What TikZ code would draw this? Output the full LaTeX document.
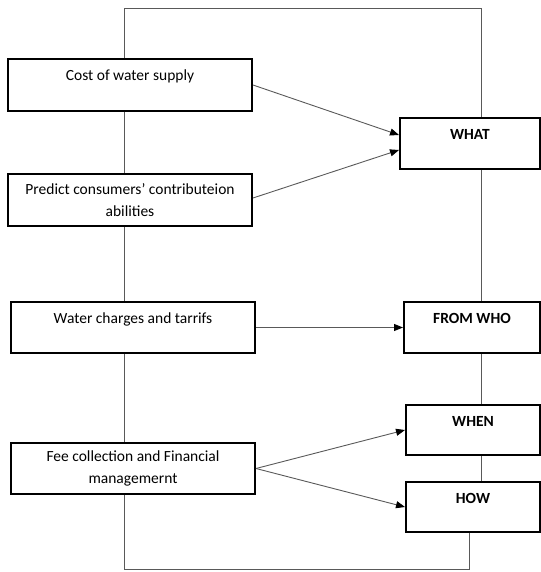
\documentclass[tikz,border=0pt]{standalone}
\usepackage{fontspec}
\setmainfont{Carlito}
\usepackage{tikz}
\usetikzlibrary{arrows.meta, calc}

\begin{document}
\begin{tikzpicture}[
    x=1pt, y=-1pt,
    box/.style={rectangle, draw, line width=2pt, fill=white, inner sep=0pt, align=center,
        font=\fontsize{15.5}{22}\selectfont},
    lbox/.style={box, minimum width=244pt, minimum height=52pt},
    rbox/.style={box, minimum height=51pt, font=\fontsize{15.5}{22}\selectfont\bfseries},
    oneline/.style={text height=11pt, text depth=19pt},
    link/.style={draw=black!65, line width=0.9pt},
    arr/.style={link, -{Triangle[length=9pt, width=7pt, color=black]}}
]
    \useasboundingbox (0,0) rectangle (540,572);

    % frame corners
    \coordinate (tl) at (124,8);
    \coordinate (tr) at (481,8);
    \coordinate (bl) at (124,569);
    \coordinate (br) at (469,569);

    % left column
    \node[lbox, oneline] (cost) at (130,85) {Cost of water supply};
    \node[lbox] (predict) at (130,200) {Predict consumers’ contributeion\\abilities};
    \node[lbox, oneline, minimum height=51pt] (charges) at (133,327.5) {Water charges and tarrifs};
    \node[lbox, minimum height=51pt] (fee) at (133,468.5) {Fee collection and Financial\\managemernt};

    % right column
    \node[rbox, oneline, minimum width=140pt] (what) at (470,143.5) {WHAT};
    \node[rbox, oneline, minimum width=136pt] (fromwho) at (472,327.5) {FROM WHO};
    \node[rbox, oneline, minimum width=134pt, minimum height=50pt] (when) at (473,430) {WHEN};
    \node[rbox, oneline, minimum width=134pt, minimum height=50pt] (how) at (473,507) {HOW};

    % frame lines
    \draw[link] (cost.north -| tl) -- (tl) -- (tr) -- (what.north -| tr);
    \draw[link] (cost.south -| tl) -- (predict.north -| tl);
    \draw[link] (predict.south -| tl) -- (charges.north -| tl);
    \draw[link] (charges.south -| tl) -- (fee.north -| tl);
    \draw[link] (fee.south -| bl) -- (bl) -- (br) -- (how.south -| br);
    \draw[link] (what.south -| tr) -- (fromwho.north -| tr);
    \draw[link] (fromwho.south -| tr) -- (when.north -| tr);
    \draw[link] (when.south -| tr) -- (how.north -| tr);

    % arrows
    \draw[arr] (cost.east) -- ([yshift=8.5pt]what.west);
    \draw[arr] ([yshift=2pt]predict.east) -- ([yshift=-6.5pt]what.west);
    \draw[arr] (charges.east) -- (fromwho.west);
    \draw[arr] (fee.east) -- (when.west);
    \draw[arr] (fee.east) -- (how.west);
\end{tikzpicture}
\end{document}
